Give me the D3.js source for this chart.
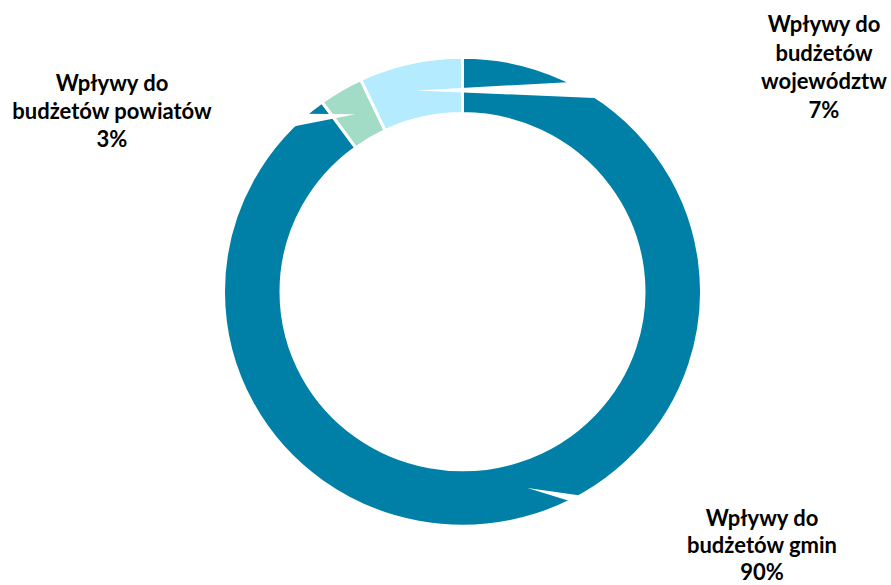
<!DOCTYPE html>
<html>
<head>
<meta charset="utf-8">
<script src="https://cdn.jsdelivr.net/npm/d3@7"></script>
<style>
  html, body { margin: 0; padding: 0; background: #ffffff; }
  svg { display: block; }
  text { font-family: Lato, "Open Sans", "Noto Sans", sans-serif; font-weight: 700; fill: #000; }
</style>
</head>
<body>
<svg id="chart" width="891" height="585"></svg>
<script>
// ---- data ----
const categories = ["Wpływy do budżetów gmin", "Wpływy do budżetów powiatów", "Wpływy do budżetów województw"];
const values = [90, 3, 7];
const percentLabels = ["90%", "3%", "7%"];
const labelLines = [
  ["Wpływy do", "budżetów gmin"],
  ["Wpływy do", "budżetów powiatów"],
  ["Wpływy do", "budżetów", "województw"]
];
const colors = ["#0080A7", "#A2DBC6", "#B4EBFE"];

// ---- layout ----
const W = 891, H = 585;
const cx = 462.5, cy = 291.7;
const rOuter = 239, rInner = 181.5, yScale = 234.5 / 239;
const lineH = 28.3;
const fontSize = 22;
// label anchors (centre x, first baseline) and callout pointer base on box edge
const labelLayout = [
  { x: 762, y: 526, lineH: 27.2, base: [[683, 510], [683, 536]] },
  { x: 112, y: 91,  lineH: 28,   base: [[220, 113], [220, 141]] },
  { x: 824, y: 32,  lineH: 28.7, base: [[755, 72],  [755, 105]] }
];

const svg = d3.select("#chart");

const pie = d3.pie().sort(null).value(d => d).startAngle(0).endAngle(2 * Math.PI);
const arcs = pie(values);
const arc = d3.arc().innerRadius(rInner).outerRadius(rOuter);

const g = svg.append("g").attr("transform", `translate(${cx},${cy}) scale(1,${yScale})`);
g.selectAll("path.slice")
  .data(arcs)
  .join("path")
  .attr("class", "slice")
  .attr("d", arc)
  .attr("fill", (d, i) => colors[i])
  .attr("stroke", "#ffffff")
  .attr("stroke-width", 3)
  .attr("vector-effect", "non-scaling-stroke");

// callout pointers (white wedges from label box to slice centroid)
const pointers = svg.append("g");
arcs.forEach((d, i) => {
  const c = arc.centroid(d);
  const tip = [cx + c[0], cy + c[1] * yScale];
  const b = labelLayout[i].base;
  pointers.append("path")
    .attr("d", d3.line()([tip, b[0], b[1]]) + "Z")
    .attr("fill", "#ffffff");
});

// labels
const labels = svg.append("g");
arcs.forEach((d, i) => {
  const L = labelLayout[i];
  const lines = labelLines[i].concat([percentLabels[i]]);
  const t = labels.append("text")
    .attr("text-anchor", "middle")
    .attr("font-size", fontSize);
  lines.forEach((ln, k) => {
    t.append("tspan").attr("x", L.x).attr("y", L.y + k * L.lineH).text(ln);
  });
});
</script>
</body>
</html>
